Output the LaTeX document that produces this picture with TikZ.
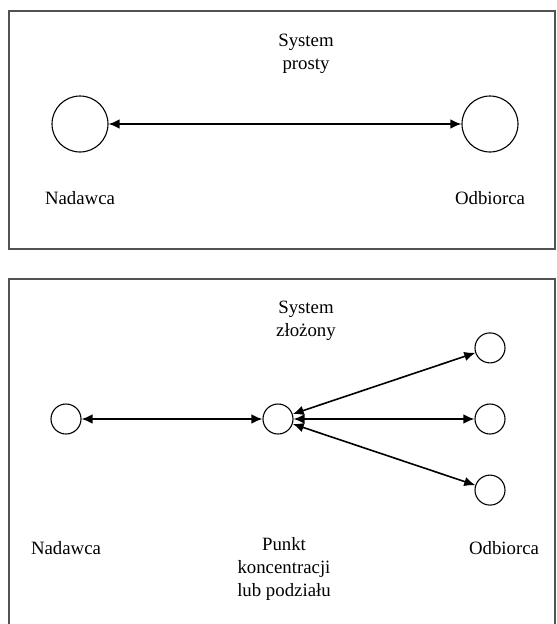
\documentclass[tikz,border=0pt]{standalone}
\usepackage{fontspec}
\setmainfont{Liberation Serif}
\usetikzlibrary{arrows.meta,positioning}

\begin{document}
\begin{tikzpicture}[
		x=1pt, y=-1pt,
		node distance=40pt,
		font=\fontsize{18.8}{23}\selectfont,
		frame/.style={draw=black!68, line width=1.6pt},
		bigstn/.style={draw, circle, line width=1.1pt, minimum size=56pt, inner sep=0pt},
		stn/.style={draw, circle, line width=1.1pt, minimum size=30pt, inner sep=0pt},
		lbl/.style={align=center, inner sep=0pt},
		link/.style={{Latex[length=11pt,width=9.5pt]}-{Latex[length=11pt,width=9.5pt]}, line width=1.6pt},
	]
	\useasboundingbox (0,0) rectangle (557,624);

	% system prosty
	\draw[frame] (9,11) rectangle (555,249);
	\node[lbl] (tprosty) at (306,54) {System\\prosty};
	\node[bigstn] (nadA) at (80,124) {};
	\node[bigstn] (odbA) at (490,124) {};
	\node[lbl] (nadAl) at (80,198) {Nadawca};
	\node[lbl] (odbAl) at (490,198) {Odbiorca};
	\draw[link] (nadA) -- (odbA);

	% system zlozony
	\draw[frame] (9,624) |- (555,279) -- (555,624);
	\node[lbl] (tzlozony) at (306,321) {System\\złożony};
	\node[stn] (nadB) at (66,419) {};
	\node[stn] (punkt) at (278,419) {};
	\node[stn] (odbB) at (490,419) {};
	\node[stn, above=of odbB] (odbBa) {};
	\node[stn, below=of odbB] (odbBc) {};
	\node[lbl] (nadBl) at (66,548) {Nadawca};
	\node[lbl, anchor=north] (punktl) at (284,537) {Punkt\\koncentracji\\lub podziału};
	\node[lbl] (odbBl) at (504,548) {Odbiorca};

	\draw[link] (nadB) -- (punkt);
	\draw[link] (punkt) -- (odbBa);
	\draw[link] (punkt) -- (odbB);
	\draw[link] (punkt) -- (odbBc);
\end{tikzpicture}
\end{document}
